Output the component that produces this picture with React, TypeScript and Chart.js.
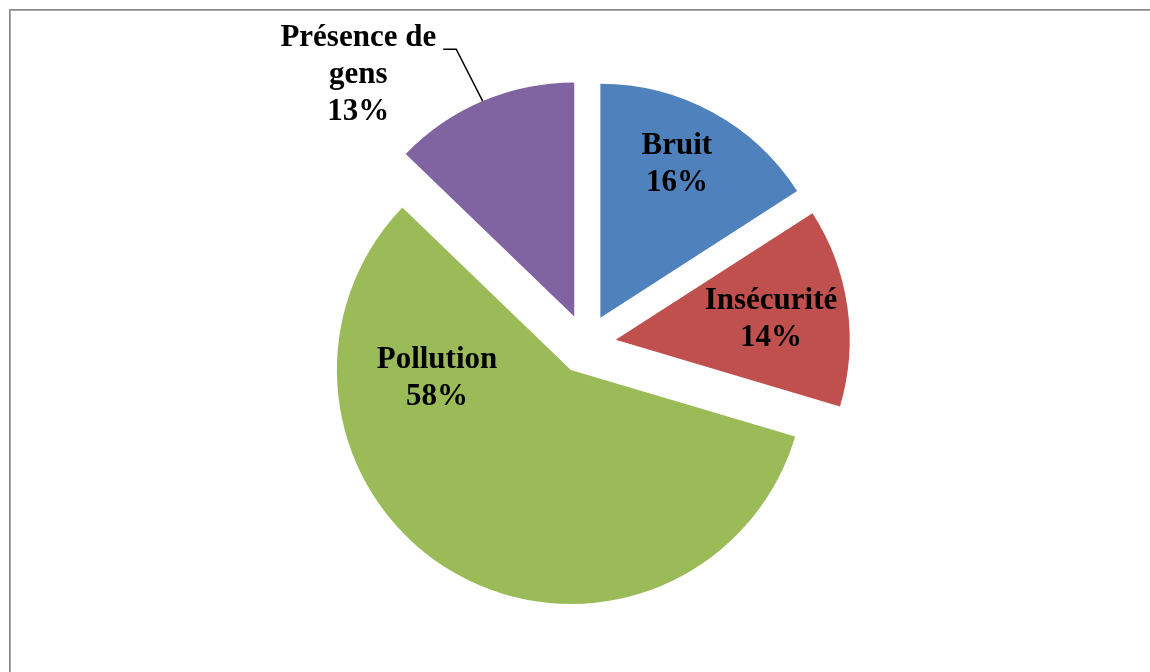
import React, { useEffect, useRef } from 'react';
import { Chart, registerables } from 'chart.js';

Chart.register(...registerables);

// ---- data ----
const categories = ['Bruit', 'Insécurité', 'Pollution', 'Présence de gens'];
const values = [15.9, 13.7, 57.6, 12.8];
const colors = ['#4F81BD', '#C0504D', '#9BBB59', '#8064A2'];

// ---- label placement (angle from north in degrees, distance in radii from exploded slice centre) ----
const labelAngles = [26.3, 82.0, 267, 318.4];
const labelDistances = [0.738, 0.67, 0.573, 1.39];
const labelMaxWidth = [Infinity, Infinity, Infinity, 180];
const hasLeader = [false, false, false, true];

const EXPLODE = 30;
const RADIUS = 234;
const FONT = 'bold 31px "Liberation Serif", "Times New Roman", serif';
const LINE_H = 37;

function wrap(ctx: CanvasRenderingContext2D, text: string, maxW: number): string[] {
  const words = text.split(' ');
  const lines: string[] = [];
  let cur = '';
  for (const w of words) {
    const t = cur ? cur + ' ' + w : w;
    if (cur && ctx.measureText(t).width > maxW) {
      lines.push(cur);
      cur = w;
    } else cur = t;
  }
  if (cur) lines.push(cur);
  return lines;
}

const explodePlugin = {
  id: 'explodeSlices',
  beforeDatasetsDraw(chart: any) {
    const ctx = chart.ctx as CanvasRenderingContext2D;
    const meta = chart.getDatasetMeta(0);
    meta.data.forEach((arc: any) => {
      const mid = (arc.startAngle + arc.endAngle) / 2;
      ctx.save();
      ctx.translate(Math.cos(mid) * EXPLODE, Math.sin(mid) * EXPLODE);
      arc.draw(ctx);
      ctx.restore();
    });
    return false;
  },
};

const labelPlugin = {
  id: 'sliceLabels',
  afterDraw(chart: any) {
    const ctx = chart.ctx as CanvasRenderingContext2D;
    const meta = chart.getDatasetMeta(0);
    const data = chart.data.datasets[0].data as number[];
    const total = data.reduce((a, b) => a + b, 0);
    ctx.save();
    ctx.font = FONT;
    ctx.fillStyle = '#000000';
    ctx.textAlign = 'center';
    ctx.textBaseline = 'alphabetic';
    meta.data.forEach((arc: any, i: number) => {
      const mid = (arc.startAngle + arc.endAngle) / 2;
      const R = arc.outerRadius;
      const ex = arc.x + Math.cos(mid) * EXPLODE;
      const ey = arc.y + Math.sin(mid) * EXPLODE;
      const a = ((labelAngles[i] - 90) * Math.PI) / 180;
      const cx = ex + Math.cos(a) * labelDistances[i] * R;
      const cy = ey + Math.sin(a) * labelDistances[i] * R;
      const pct = Math.round((data[i] / total) * 100) + '%';
      const lines = [...wrap(ctx, chart.data.labels[i], labelMaxWidth[i]), pct];
      const n = lines.length;
      const baselines = lines.map((_, k) => cy + (k - (n - 1) / 2) * LINE_H + 10);
      lines.forEach((l, k) => ctx.fillText(l, cx, baselines[k]));
      if (hasLeader[i]) {
        const w = ctx.measureText(lines[0]).width;
        const sx = cx + w / 2 + 7;
        const sy = baselines[0] + 3;
        const px = ex + Math.cos(mid) * R;
        const py = ey + Math.sin(mid) * R;
        ctx.beginPath();
        ctx.strokeStyle = '#000000';
        ctx.lineWidth = 1.5;
        ctx.moveTo(sx, sy);
        ctx.lineTo(sx + 13, sy);
        ctx.lineTo(px, py);
        ctx.stroke();
      }
    });
    ctx.restore();

    // chart frame
    ctx.save();
    ctx.fillStyle = '#8a8a8a';
    ctx.fillRect(9, 9, chart.width, 1);
    ctx.fillRect(9, 9, 1, chart.height);
    ctx.fillStyle = '#a8a8a8';
    ctx.fillRect(10, 10, chart.width, 1);
    ctx.fillRect(10, 10, 1, chart.height);
    ctx.restore();
  },
};

export default function App() {
  const ref = useRef<HTMLCanvasElement>(null);
  useEffect(() => {
    if (!ref.current) return;
    const chart = new Chart(ref.current, {
      type: 'pie',
      data: {
        labels: categories,
        datasets: [
          {
            data: values,
            backgroundColor: colors,
            borderWidth: 0,
            radius: RADIUS,
          } as any,
        ],
      },
      options: {
        animation: false,
        responsive: false,
        devicePixelRatio: 1,
        events: [],
        layout: { padding: { left: 22, right: 0, top: 16, bottom: 0 } },
        plugins: {
          legend: { display: false },
          tooltip: { enabled: false },
        },
      },
      plugins: [explodePlugin, labelPlugin],
    });
    return () => chart.destroy();
  }, []);
  return (
    <div style={{ position: 'fixed', left: 0, top: 0, width: 1150, height: 672, background: '#ffffff', overflow: 'hidden' }}>
      <canvas ref={ref} width={1150} height={672} style={{ display: 'block', width: 1150, height: 672 }} />
    </div>
  );
}
